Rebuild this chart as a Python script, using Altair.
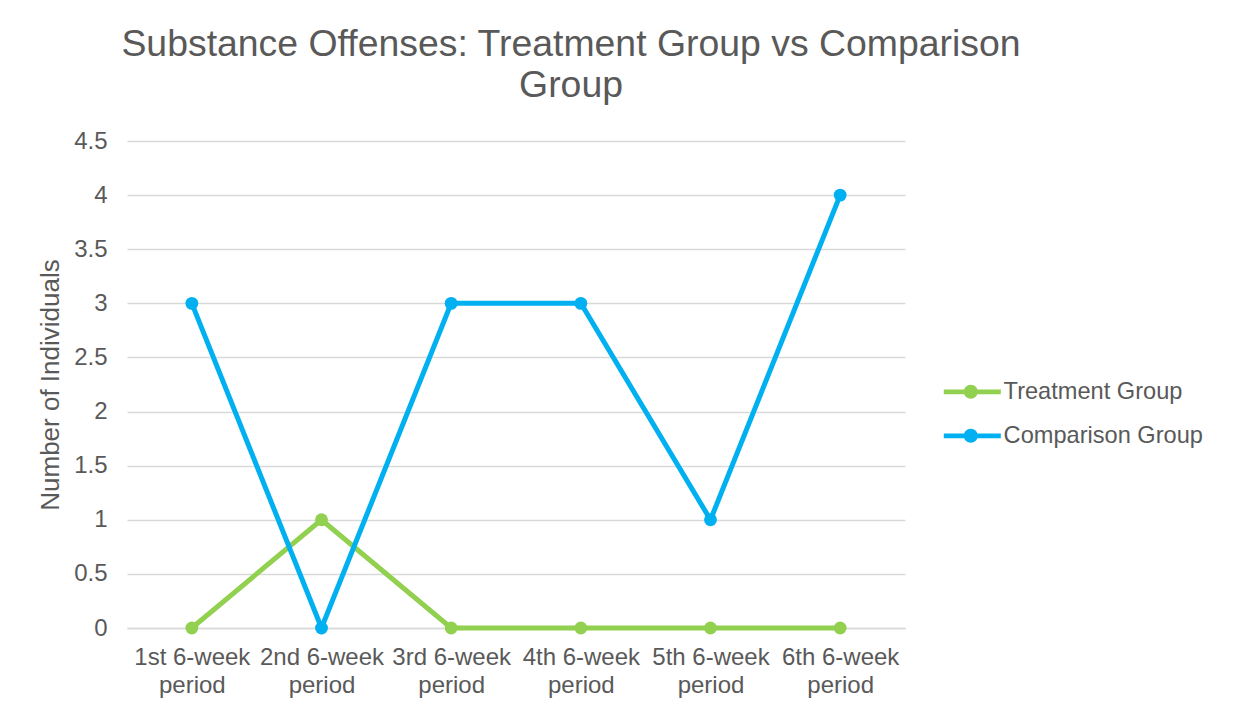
import altair as alt
import pandas as pd

periods = ["1st 6-week period", "2nd 6-week period", "3rd 6-week period",
           "4th 6-week period", "5th 6-week period", "6th 6-week period"]
treatment = [0, 1, 0, 0, 0, 0]
comparison = [3, 0, 3, 3, 1, 4]
series_names = ["Treatment Group", "Comparison Group"]
series_colors = ["#92D050", "#00B0F0"]

rows = []
for p, t, c in zip(periods, treatment, comparison):
    rows.append({"period": p, "series": series_names[0], "value": t})
    rows.append({"period": p, "series": series_names[1], "value": c})
df = pd.DataFrame(rows)

FONT = "Liberation Sans"
TEXT = "#595959"

x_enc = alt.X("period:N", sort=periods, title=None,
              scale=alt.Scale(type="point", padding=0.5),
              axis=alt.Axis(labelExpr="[replace(datum.label, ' period', ''), 'period']",
                            labelAngle=0, labelFontSize=24, labelColor=TEXT, labelFont=FONT,
                            labelLineHeight=28, labelPadding=17, ticks=False,
                            domainColor="#d9d9d9", domainWidth=1.5, grid=False))
y_enc = alt.Y("value:Q", title="Number of Individuals",
              scale=alt.Scale(domain=[0, 4.5], nice=False),
              axis=alt.Axis(values=[0, 0.5, 1, 1.5, 2, 2.5, 3, 3.5, 4, 4.5], format="~g",
                            labelFontSize=24, labelColor=TEXT, labelFont=FONT, labelPadding=20,
                            ticks=False, domain=False, gridColor="#d9d9d9", gridWidth=1.5,
                            titleFontSize=26, titleFont=FONT, titleColor=TEXT,
                            titleFontWeight="normal", titlePadding=10))
color_scale = alt.Scale(domain=series_names, range=series_colors)

sym = "M-1,-0.24L4.7,-0.24L4.7,0.24L-1,0.24Z M2.4,0A0.7,0.7,0,1,1,1.0,0A0.7,0.7,0,1,1,2.4,0Z"
leg = alt.Legend(title=None, orient="none", legendX=815, legendY=239, padding=0,
                 symbolType=sym, symbolSize=400, symbolStrokeWidth=0,
                 symbolOpacity=1, labelFontSize=23.6, labelFont=FONT, labelColor=TEXT,
                 labelOffset=38, labelLimit=400, rowPadding=19, values=series_names)

base = alt.Chart(df)
layers = []
for i, name in enumerate(series_names):
    flt = alt.datum.series == name
    line = base.transform_filter(flt).mark_line(strokeWidth=5, color=series_colors[i]).encode(
        x=x_enc, y=y_enc)
    pts = base.transform_filter(flt).mark_point(filled=True, size=165, opacity=1).encode(
        x=x_enc, y=y_enc,
        color=alt.Color("series:N", scale=color_scale, legend=leg))
    layers += [line, pts]

chart = alt.layer(*layers).properties(
    width=778, height=487,
    background="white",
    autosize=alt.AutoSizeParams(type="none"),
    padding={"left": 119, "top": 133, "right": 321, "bottom": 78},
    title=alt.Title(["Substance Offenses: Treatment Group vs Comparison", "Group"],
                    fontSize=37.4, font=FONT, color=TEXT, fontWeight="normal",
                    anchor="middle", dx=55, offset=25, lineHeight=41),
).configure_view(stroke=None)

chart.save("out.html", embed_options={"renderer": "svg", "actions": False})
